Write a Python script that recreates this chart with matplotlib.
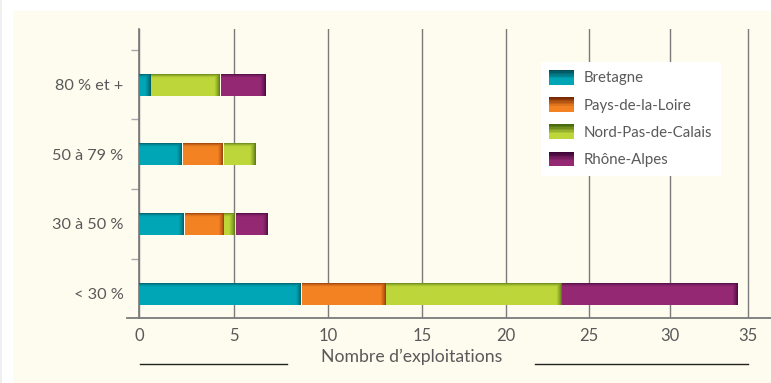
import numpy as np
import matplotlib
matplotlib.use("Agg")
import matplotlib.pyplot as plt
from matplotlib.patches import Patch, Rectangle
from matplotlib.legend_handler import HandlerBase
from matplotlib.colors import to_rgb
import matplotlib.transforms as mtransforms

# DATA
categories = ["< 30 %", "30 à 50 %", "50 à 79 %", "80 % et +"]
regions = ["Bretagne", "Pays-de-la-Loire", "Nord-Pas-de-Calais", "Rhône-Alpes"]
bretagne = [8.6, 2.4, 2.3, 0.65]
pays_loire = [4.5, 2.1, 2.15, 0.0]
nord_calais = [10.3, 0.6, 1.7, 3.65]
rhone_alpes = [11.0, 1.75, 0.0, 2.4]
xticks = [0, 5, 10, 15, 20, 25, 30, 35]
xlabel = "Nombre d\u2019exploitations"

# STYLE
lightColours = ["#00a6b6", "#f28222", "#bdd63a", "#952873"]
darkColours = ["#034c55", "#7a2a05", "#4a6a10", "#3a0535"]
textColour = "#595959"
cream = "#fefcef"
barHeight = 0.32

# gridline spacing of the printed axis is not even: piecewise-linear scale
scaleKnots = [-5, 0, 5, 10, 15, 20, 25, 30, 35, 40]
scaleStops = [44, 139, 234, 328, 422, 506, 589, 670, 748, 826]

plt.rcParams['font.family'] = ['Lato', 'DejaVu Sans']


def Forward(x):
	return np.interp(x, scaleKnots, scaleStops)

def Inverse(p):
	return np.interp(p, scaleStops, scaleKnots)


def DrawSegment(ax, left, width, y, light, dark):
	# bevelled bar segment: dark band on top and on the right end
	if width <= 0:
		return
	nx = max(int(round(Forward(left + width) - Forward(left))), 2)
	ny = 22
	t = np.zeros((ny, nx))
	top = [0.85, 0.55, 0.3, 0.12]
	for i, v in enumerate(top):
		t[i, :] = np.maximum(t[i, :], v)
	right = [0.92, 0.75, 0.55, 0.4, 0.25, 0.12]
	for i, v in enumerate(right):
		if i < nx:
			t[:, nx - 1 - i] = np.maximum(t[:, nx - 1 - i], v)
	l = np.array(to_rgb(light))
	d = np.array(to_rgb(dark))
	img = l[None, None, :] * (1 - t[:, :, None]) + d[None, None, :] * t[:, :, None]
	ax.imshow(img, extent=(left, left + width, y - barHeight / 2, y + barHeight / 2),
		aspect='auto', interpolation='bilinear', zorder=3, origin='upper')


class GradientHandler(HandlerBase):
	def create_artists(self, legend, orig_handle, xdescent, ydescent, width, height, fontsize, trans):
		light = np.array(to_rgb(orig_handle.get_facecolor()))
		dark = np.array(to_rgb(orig_handle.get_edgecolor()))
		n = 10
		artists = []
		for i in range(n):
			t = max(0.0, 1.0 - i / (n * 0.6))
			c = light * (1 - t) + dark * t
			r = Rectangle((-xdescent, -ydescent + height * (1 - (i + 1) / n)), width, height / n + 0.3,
				facecolor=c, edgecolor='none', transform=trans)
			artists.append(r)
		return artists


fig = plt.figure(figsize=(7.71, 3.83), dpi=100)
fig.patch.set_facecolor('white')
fig.patches.append(Rectangle((13 / 771, 0), 1, 1 - 11 / 383, transform=fig.transFigure,
	facecolor=cream, edgecolor='none', zorder=-10))
fig.patches.append(Rectangle((0, 0), 2 / 771, 1, transform=fig.transFigure,
	facecolor='#efefef', edgecolor='none', zorder=-10))

ax = fig.add_axes([127 / 771, 65 / 383, 644 / 771, 289 / 383])
ax.patch.set_visible(False)
ax.set_xscale('function', functions=(Forward, Inverse))

series = [bretagne, pays_loire, nord_calais, rhone_alpes]
ypos = np.arange(len(categories))
for row in range(len(categories)):
	left = 0.0
	for s in range(len(series)):
		w = series[s][row]
		DrawSegment(ax, left, w, ypos[row], lightColours[s], darkColours[s])
		left += w

ax.set_xlim(-0.63, 36.47)
ax.set_ylim(-0.353, 3.80)

# axes and grid
for side in ['top', 'right']:
	ax.spines[side].set_visible(False)
ax.spines['left'].set_position(('data', 0))
ax.spines['left'].set_color('#7a7a7a')
ax.spines['bottom'].set_color('#7a7a7a')
ax.spines['left'].set_linewidth(1.2)
ax.spines['bottom'].set_linewidth(1.3)
ax.set_xticks(xticks)
ax.set_xticklabels([str(v) for v in xticks])
ax.xaxis.set_minor_locator(matplotlib.ticker.NullLocator())
ax.tick_params(axis='x', length=0, pad=7, labelsize=12, labelcolor=textColour)
ax.xaxis.grid(True, color='#7a7a7a', linewidth=1.0)
ax.set_axisbelow(True)

ax.set_yticks(ypos)
ax.set_yticklabels(categories)
ax.tick_params(axis='y', which='major', length=0, pad=11, labelsize=11.7, labelcolor=textColour)
ax.set_yticks([0.5, 1.5, 2.5, 3.5], minor=True)
ax.tick_params(axis='y', which='minor', length=5.5, width=1.0, color='#a8a8a8', direction='out')

# axis title with rules either side
trans = mtransforms.blended_transform_factory(ax.transData, ax.transAxes)
ax.text(14.47, -0.135, xlabel, transform=trans, ha='center', va='center',
	fontsize=12.7, color=textColour, clip_on=False)
ax.plot([0.05, 7.8], [-0.159, -0.159], transform=trans, color='#222222', linewidth=1.0, clip_on=False)
ax.plot([21.75, 35.0], [-0.159, -0.159], transform=trans, color='#222222', linewidth=1.0, clip_on=False)

handles = [Patch(facecolor=lightColours[i], edgecolor=darkColours[i]) for i in range(len(regions))]
leg = ax.legend(handles, regions, handler_map={Patch: GradientHandler()},
	loc='upper left', bbox_to_anchor=(0.643, 0.886), borderaxespad=0,
	fontsize=10.8, handlelength=1.66, handleheight=1.1, handletextpad=0.65,
	labelspacing=0.8, borderpad=0.55, fancybox=False, frameon=True)
leg.get_frame().set_facecolor('white')
leg.get_frame().set_edgecolor('none')
leg.get_frame().set_alpha(1.0)
for txt in leg.get_texts():
	txt.set_color(textColour)

fig.savefig("out.png", dpi=100, facecolor=fig.get_facecolor())
